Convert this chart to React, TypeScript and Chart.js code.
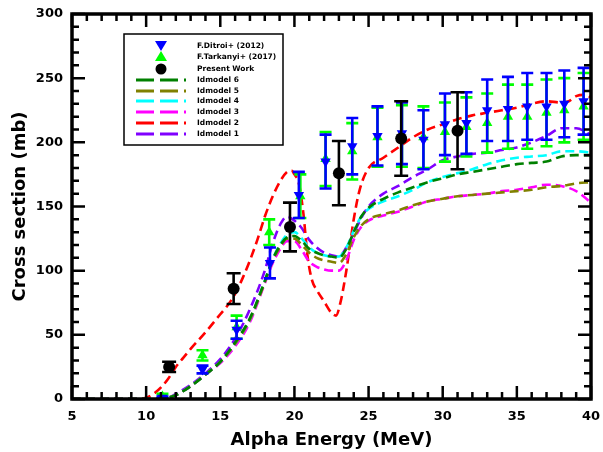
import React, { useEffect, useRef } from "react";
import { Chart, registerables } from "chart.js";

Chart.register(...registerables);

// ---------------- data ----------------
const modelE = [5, 10, 11, 11.5, 12, 13, 14, 15, 16, 17, 18, 18.5, 19, 19.5, 20, 20.5, 21, 21.5, 22, 22.5, 23, 23.5, 24, 24.5, 25, 26, 27, 28, 29, 30, 31, 32, 33, 34, 35, 36, 37, 38, 39, 40];
const idmodel1 = [0, 0, 0, 1, 4, 11, 20, 31, 47, 70, 100, 120, 135, 142, 139, 133, 124, 118, 114, 112, 111, 118, 129, 141, 150, 160, 166, 173, 179, 186, 189, 191, 192, 194, 196, 200, 205, 211, 211, 206];
const idmodel3 = [0, 0, 0, 1, 3, 10, 19, 28, 41, 60, 90, 105, 116, 123, 123, 116, 107, 103, 101, 100, 100, 108, 124, 134, 139, 143, 146, 150, 154, 156, 158, 159, 160, 162, 163, 165, 167, 166, 162, 153];
const idmodel4 = [0, 0, 0, 1, 3, 10, 19, 29, 43, 62, 92, 108, 120, 128, 130, 125, 118, 114, 112, 111, 111, 118, 131, 142, 148, 154, 158, 163, 169, 173, 176, 179, 183, 186, 188, 189, 190, 193, 193, 192];
const idmodel5 = [0, 0, 0, 1, 3, 10, 19, 29, 43, 62, 91, 107, 118, 125, 125, 120, 114, 110, 108, 107, 106, 113, 126, 135, 140, 144, 147, 151, 154, 156, 158, 159, 160, 161, 162, 163, 165, 166, 168, 169];
const idmodel6 = [0, 0, 0, 1, 3, 10, 19, 29, 44, 63, 92, 108, 119, 126, 127, 123, 117, 114, 112, 111, 110, 117, 130, 142, 149, 156, 161, 165, 169, 172, 175, 177, 179, 181, 183, 184, 185, 189, 190, 190];

const redE = [5, 9.5, 10, 10.5, 11, 11.5, 12, 12.5, 13, 14, 15, 15.5, 16, 16.5, 17, 17.5, 18, 18.5, 19, 19.5, 19.8, 20, 20.3, 20.6, 20.9, 21.2, 21.5, 22, 22.5, 22.8, 23.1, 23.5, 24, 24.4, 25, 26, 27, 28, 29, 30, 31, 32, 33, 34, 35, 36, 37, 38, 38.5, 39, 39.5, 40];
const idmodel2 = [0, 0, 1, 4, 9, 16, 25, 32, 39, 52, 66, 73, 82, 94, 108, 124, 142, 157, 169, 177, 178, 175, 168, 145, 110, 92, 85, 76, 67, 65, 75, 100, 140, 163, 180, 188, 196, 204, 210, 214, 218, 221, 223, 225, 227, 230, 232, 231, 232, 236, 237, 235];

const ditroiE = [11.1, 13.8, 16.1, 18.35, 20.3, 22.1, 23.9, 25.6, 27.25, 28.7, 30.15, 31.6, 33.0, 34.4, 35.7, 37.0, 38.2, 39.5];
const ditroiY = [1, 23, 54, 106, 159, 185, 197, 205, 207, 202, 214, 215, 225, 226, 228, 228, 230, 232];
const ditroiErr = [1, 3, 7, 12, 18, 21, 22, 23, 24, 23, 24, 24, 24, 25, 26, 26, 26, 26];

const tarkE = [11.1, 13.8, 16.1, 18.3, 20.4, 22.1, 23.9, 25.6, 27.25, 28.7, 30.15, 31.6, 33.0, 34.4, 35.7, 37.0, 38.2, 39.5];
const tarkY = [2, 34, 56, 130, 158, 187, 193, 204, 205, 204, 208, 212, 215, 220, 220, 223, 225, 228];
const tarkErr = [2, 4, 9, 10, 17, 21, 22, 23, 24, 24, 23, 23, 23, 25, 25, 26, 25, 26];

const presE = [11.55, 15.9, 19.7, 23.0, 27.2, 31.0];
const presY = [25, 86, 134, 176, 203, 209];
const presErr = [4, 12, 19, 25, 29, 30];

const xTicks = [5, 10, 15, 20, 25, 30, 35, 40];
const yTicks = [0, 50, 100, 150, 200, 250, 300];

const xTitle = "Alpha Energy (MeV)";
const yTitle = "Cross section (mb)";

const legendItems = [
  { label: "F.Ditroi+ (2012)", kind: "down", color: "#0000ff" },
  { label: "F.Tarkanyi+ (2017)", kind: "up", color: "#00ff00" },
  { label: "Present Work", kind: "circle", color: "#000000" },
  { label: "Idmodel 6", kind: "line", color: "#008000" },
  { label: "Idmodel 5", kind: "line", color: "#808000" },
  { label: "Idmodel 4", kind: "line", color: "#00ffff" },
  { label: "Idmodel 3", kind: "line", color: "#ff00ff" },
  { label: "Idmodel 2", kind: "line", color: "#ff0000" },
  { label: "Idmodel 1", kind: "line", color: "#8000ff" },
];

const FONT = "'DejaVu Sans', sans-serif";

const pts = (xs: number[], ys: number[]) => xs.map((x, i) => ({ x, y: ys[i] }));

const lineDs = (xs: number[], ys: number[], color: string, order: number) => ({
  type: "line" as const,
  data: pts(xs, ys),
  borderColor: color,
  backgroundColor: color,
  borderWidth: 2.6,
  borderDash: [9, 5],
  pointRadius: 0,
  tension: 0.4,
  cubicInterpolationMode: "monotone" as const,
  fill: false,
  order,
});

const errorBarPlugin = {
  id: "errorBars",
  beforeDatasetDraw(chart: any, args: any) {
    const ds = chart.data.datasets[args.index];
    if (!ds.errors) return;
    const ctx = chart.ctx;
    const ys = chart.scales.y;
    ctx.save();
    ctx.beginPath();
    const a = chart.chartArea;
    ctx.rect(a.left, a.top, a.right - a.left, a.bottom - a.top);
    ctx.clip();
    ctx.strokeStyle = ds.errColor;
    ctx.lineWidth = 2.6;
    ctx.setLineDash([]);
    args.meta.data.forEach((el: any, i: number) => {
      const v = ds.data[i].y;
      const e = ds.errors[i];
      const t = ys.getPixelForValue(v + e);
      const b = ys.getPixelForValue(v - e);
      const c = ds.capHalf;
      ctx.beginPath();
      ctx.moveTo(el.x, t);
      ctx.lineTo(el.x, b);
      ctx.moveTo(el.x - c, t);
      ctx.lineTo(el.x + c, t);
      ctx.moveTo(el.x - c, b);
      ctx.lineTo(el.x + c, b);
      ctx.stroke();
    });
    ctx.restore();
  },
};

const framePlugin = {
  id: "frameTicks",
  afterDraw(chart: any) {
    const ctx = chart.ctx;
    const { left, right, top, bottom } = chart.chartArea;
    const xs = chart.scales.x;
    const ys = chart.scales.y;
    ctx.save();
    ctx.setLineDash([]);
    ctx.strokeStyle = "#000";
    ctx.lineWidth = 2.5;
    ctx.beginPath();
    for (let v = xs.min; v <= xs.max + 1e-9; v += 1) {
      const p = xs.getPixelForValue(v);
      const len = Math.abs(v % 5) < 1e-9 ? 13 : 7;
      ctx.moveTo(p, bottom);
      ctx.lineTo(p, bottom - len);
      ctx.moveTo(p, top);
      ctx.lineTo(p, top + len);
    }
    for (let v = ys.min; v <= ys.max + 1e-9; v += 10) {
      const p = ys.getPixelForValue(v);
      const len = Math.abs(v % 50) < 1e-9 ? 13 : 7;
      ctx.moveTo(left, p);
      ctx.lineTo(left + len, p);
      ctx.moveTo(right, p);
      ctx.lineTo(right - len, p);
    }
    ctx.stroke();
    ctx.lineWidth = 3.5;
    ctx.strokeRect(left, top, right - left, bottom - top);

    // axis titles
    ctx.fillStyle = "#000";
    ctx.font = `bold 18px ${FONT}`;
    ctx.textAlign = "center";
    ctx.textBaseline = "middle";
    ctx.fillText(xTitle, (left + right) / 2, 440);
    ctx.save();
    ctx.translate(20, (top + bottom) / 2);
    ctx.rotate(-Math.PI / 2);
    ctx.fillText(yTitle, 0, 0);
    ctx.restore();

    // legend
    const bx = 124, by = 34, bw = 159, bh = 111;
    ctx.fillStyle = "#fff";
    ctx.fillRect(bx, by, bw, bh);
    ctx.lineWidth = 1.5;
    ctx.strokeStyle = "#000";
    ctx.strokeRect(bx, by, bw, bh);
    const mx = 161;
    const tx = 197;
    const rowY = [46, 57, 69, 80, 91, 101, 112, 123, 134];
    legendItems.forEach((it, i) => {
      const y = rowY[i];
      ctx.fillStyle = it.color;
      ctx.strokeStyle = it.color;
      if (it.kind === "down") {
        ctx.beginPath();
        ctx.moveTo(mx - 6, y - 5);
        ctx.lineTo(mx + 6, y - 5);
        ctx.lineTo(mx, y + 5);
        ctx.closePath();
        ctx.fill();
      } else if (it.kind === "up") {
        ctx.beginPath();
        ctx.moveTo(mx, y - 6);
        ctx.lineTo(mx + 6, y + 4);
        ctx.lineTo(mx - 6, y + 4);
        ctx.closePath();
        ctx.fill();
      } else if (it.kind === "circle") {
        ctx.beginPath();
        ctx.arc(mx, y, 5.5, 0, Math.PI * 2);
        ctx.fill();
      } else {
        ctx.lineWidth = 3;
        ctx.setLineDash([18, 6]);
        ctx.beginPath();
        ctx.moveTo(136, y);
        ctx.lineTo(186, y);
        ctx.stroke();
        ctx.setLineDash([]);
      }
      ctx.fillStyle = "#000";
      ctx.font = `bold 7.5px ${FONT}`;
      ctx.textAlign = "left";
      ctx.textBaseline = "middle";
      ctx.fillText(it.label, tx, y);
    });
    ctx.restore();
  },
};

export default function App() {
  const ref = useRef<HTMLCanvasElement | null>(null);
  useEffect(() => {
    document.body.style.margin = "0";
    if (!ref.current) return;
    const chart = new Chart(ref.current, {
      type: "scatter",
      data: {
        datasets: [
          {
            type: "scatter",
            data: pts(presE, presY),
            pointStyle: "circle",
            pointRadius: 6,
            backgroundColor: "#000",
            borderColor: "#000",
            borderWidth: 0,
            errors: presErr,
            errColor: "#000",
            capHalf: 7,
            order: 0,
          } as any,
          {
            type: "scatter",
            data: pts(ditroiE, ditroiY),
            pointStyle: "triangle",
            rotation: 180,
            pointRadius: 6,
            backgroundColor: "#0000ff",
            borderColor: "#0000ff",
            borderWidth: 0,
            errors: ditroiErr,
            errColor: "#0000ff",
            capHalf: 6,
            order: 1,
          } as any,
          {
            type: "scatter",
            data: pts(tarkE, tarkY),
            pointStyle: "triangle",
            pointRadius: 6,
            backgroundColor: "#00ff00",
            borderColor: "#00ff00",
            borderWidth: 0,
            errors: tarkErr,
            errColor: "#00ff00",
            capHalf: 6,
            order: 2,
          } as any,
          lineDs(modelE, idmodel6, "#008000", 3),
          lineDs(modelE, idmodel5, "#808000", 4),
          lineDs(modelE, idmodel4, "#00ffff", 5),
          lineDs(modelE, idmodel3, "#ff00ff", 6),
          lineDs(redE, idmodel2, "#ff0000", 7),
          lineDs(modelE, idmodel1, "#8000ff", 8),
        ],
      },
      options: {
        responsive: false,
        animation: false,
        devicePixelRatio: 1,
        layout: { padding: { top: 14, right: 12, left: 0, bottom: 0 } },
        plugins: { legend: { display: false }, tooltip: { enabled: false } },
        scales: {
          x: {
            type: "linear",
            min: 5,
            max: 40,
            afterFit: (s: any) => {
              s.height = 53;
              s.paddingLeft = 0;
              s.paddingRight = 0;
            },
            afterBuildTicks: (s: any) => {
              s.ticks = xTicks.map((v) => ({ value: v }));
            },
            grid: { display: false, drawTicks: false },
            border: { display: false },
            ticks: {
              autoSkip: false,
              maxRotation: 0,
              padding: 10,
              color: "#000",
              font: { family: FONT, size: 13, weight: "bold" },
            },
          },
          y: {
            type: "linear",
            min: 0,
            max: 300,
            afterFit: (s: any) => {
              s.width = 72;
              s.paddingTop = 0;
              s.paddingBottom = 0;
            },
            afterBuildTicks: (s: any) => {
              s.ticks = yTicks.map((v) => ({ value: v }));
            },
            grid: { display: false, drawTicks: false },
            border: { display: false },
            ticks: {
              autoSkip: false,
              padding: 9,
              color: "#000",
              font: { family: FONT, size: 13, weight: "bold" },
            },
          },
        },
      } as any,
      plugins: [errorBarPlugin, framePlugin],
    });
    return () => chart.destroy();
  }, []);
  return (
    <div style={{ width: 603, height: 452 }}>
      <canvas ref={ref} width={603} height={452} style={{ display: "block" }} />
    </div>
  );
}
